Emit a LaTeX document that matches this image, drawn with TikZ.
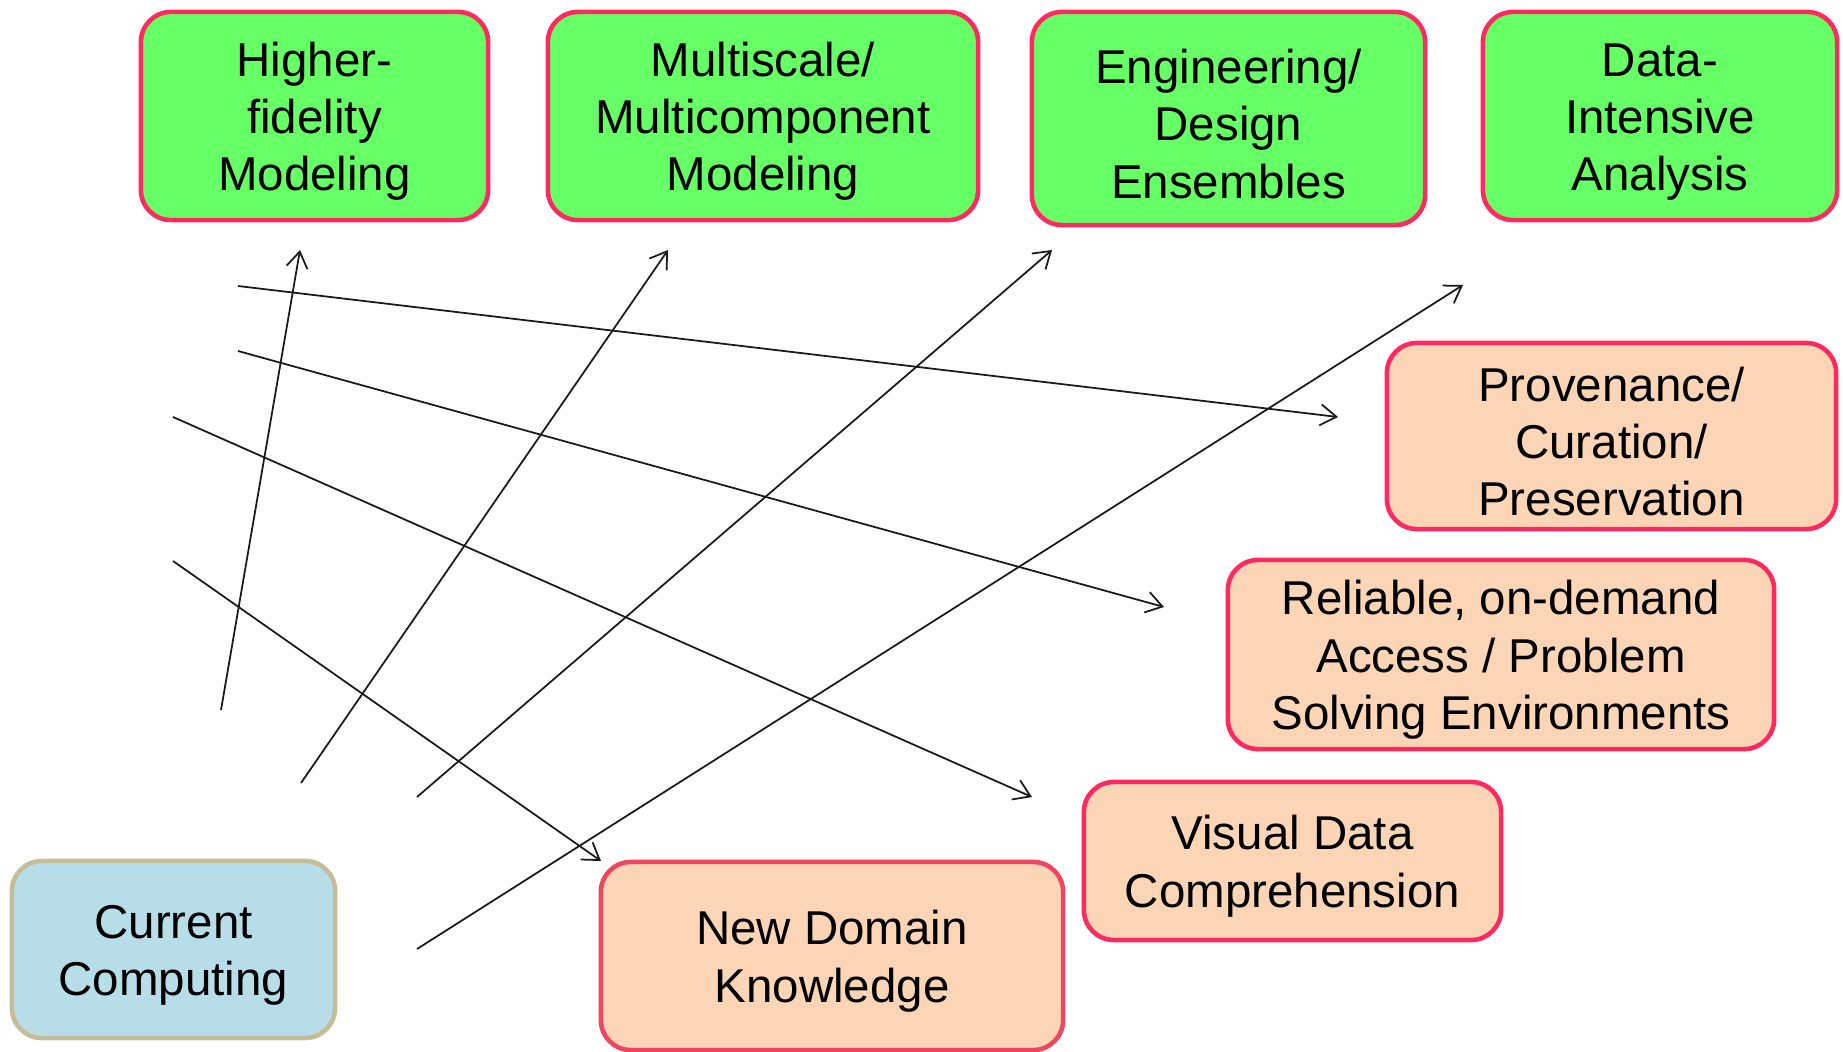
\documentclass[tikz,border=0pt]{standalone}
\usepackage{fontspec}
\setmainfont{Liberation Sans}
\usepackage{xcolor}
\usetikzlibrary{arrows.meta}

\definecolor{boxgreen}{HTML}{66FF66}
\definecolor{boxpeach}{HTML}{FBD5B5}
\definecolor{boxred}{HTML}{FF2A60}
\definecolor{boxrose}{HTML}{EE465E}
\definecolor{boxblue}{HTML}{B7DEE8}
\definecolor{boxkhaki}{HTML}{C4BD97}

% taller first line, pushes the text block a little down
\newcommand{\topline}{\rule{0pt}{0.95em}}

\begin{document}
\begin{tikzpicture}[x=0.01cm, y=-0.01cm,
  box/.style={draw=boxred, line width=1.3pt, rounded corners=0.3cm, align=center,
    inner sep=0pt, font=\fontsize{13.5}{16.3}\selectfont},
  goal/.style={box, fill=boxgreen},
  outcome/.style={box, fill=boxpeach},
  nowbox/.style={box, fill=boxblue, draw=boxkhaki},
  link/.style={line width=0.5pt, black!90, -{Straight Barb[length=1.6mm,width=2.1mm]}}]

\useasboundingbox (0,0) rectangle (1843,1052);

% top row
{
\node[goal, minimum width=3.47cm, minimum height=2.08cm] (fidelity) at (314.5,116) {\topline Higher-\\fidelity\\Modeling};
\node[goal, minimum width=4.30cm, minimum height=2.08cm] (multi) at (763,116) {\topline Multiscale/\\Multicomponent\\Modeling};
\node[goal, minimum width=3.93cm, minimum height=2.13cm] (ensembles) at (1228.5,118.5) {\topline Engineering/\\Design\\Ensembles};
\node[goal, minimum width=3.54cm, minimum height=2.08cm] (analysis) at (1660,116) {\topline Data-\\Intensive\\Analysis};
}

% right side
{
\node[outcome, minimum width=4.49cm, minimum height=1.86cm] (provenance) at (1611.5,436) {\topline Provenance/\\Curation/\\Preservation};
\node[outcome, minimum width=5.46cm, minimum height=1.89cm] (access) at (1501,654.5) {\topline Reliable, on-demand\\Access / Problem\\Solving Environments};
\node[outcome, minimum width=4.17cm, minimum height=1.58cm] (visual) at (1292.5,861) {\topline Visual Data\\Comprehension};
\node[outcome, draw=boxrose, minimum width=4.62cm, minimum height=1.88cm] (knowledge) at (832,956) {\topline New Domain\\Knowledge};
}

\node[nowbox, minimum width=3.23cm, minimum height=1.77cm] (current) at (173.5,949.5) {\topline Current\\Computing};

% arrow ends
\coordinate (fid-from) at (221,710);
\coordinate (fid-to) at (300,250);
\coordinate (multi-from) at (301,783);
\coordinate (multi-to) at (668,250);
\coordinate (ens-from) at (417,797);
\coordinate (ens-to) at (1052,250);
\coordinate (ana-from) at (417,949);
\coordinate (ana-to) at (1463,285);

\coordinate (prov-from) at (238,286);
\coordinate (prov-to) at (1338,417);
\coordinate (acc-from) at (238,351);
\coordinate (acc-to) at (1164,607);
\coordinate (vis-from) at (173,417);
\coordinate (vis-to) at (1032,797);
\coordinate (know-from) at (173,561);
\coordinate (know-to) at (601,861);

% arrows
\draw[link] (fid-from) -- (fid-to);
\draw[link] (multi-from) -- (multi-to);
\draw[link] (ens-from) -- (ens-to);
\draw[link] (ana-from) -- (ana-to);

\draw[link] (prov-from) -- (prov-to);
\draw[link] (acc-from) -- (acc-to);
\draw[link] (vis-from) -- (vis-to);
\draw[link] (know-from) -- (know-to);

\end{tikzpicture}
\end{document}
